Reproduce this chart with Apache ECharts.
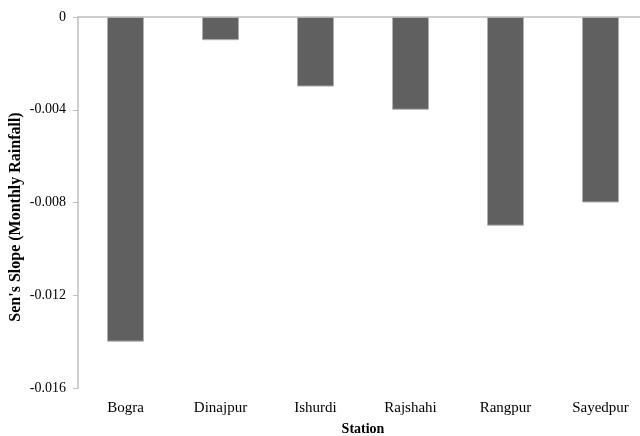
<!DOCTYPE html>
<html>
<head>
<meta charset="utf-8">
<script src="https://cdn.jsdelivr.net/npm/echarts@6/dist/echarts.min.js"></script>
<style>
html,body{margin:0;padding:0;background:#fff;}
#chart{width:640px;height:436px;}
</style>
</head>
<body>
<div id="chart"></div>
<script>
// Sen's slope of monthly rainfall for each station
const stations = ['Bogra', 'Dinajpur', 'Ishurdi', 'Rajshahi', 'Rangpur', 'Sayedpur'];
const senSlope = [-0.014, -0.001, -0.003, -0.004, -0.009, -0.008];
const yTicks = [0, -0.004, -0.008, -0.012, -0.016];
const yTitle = "Sen's Slope (Monthly Rainfall)";
const xTitle = 'Station';

const serif = '"Liberation Serif", "Times New Roman", serif';
const chart = echarts.init(document.getElementById('chart'));

chart.setOption({
  animation: false,
  backgroundColor: '#ffffff',
  grid: { left: 78, top: 17, width: 570, height: 371, outerBoundsMode: 'none', containLabel: false },
  xAxis: [
    {
      type: 'category',
      data: stations,
      position: 'bottom',
      name: xTitle,
      nameLocation: 'middle',
      nameGap: 34,
      nameTextStyle: { fontFamily: serif, fontSize: 14, fontWeight: 'bold', color: '#000' },
      axisLine: { show: false, onZero: false },
      axisTick: { show: false },
      axisLabel: { fontFamily: serif, fontSize: 15, color: '#000', margin: 13 }
    },
    {
      // zero baseline along the top of the plot
      type: 'category',
      data: stations,
      position: 'top',
      axisLine: { show: true, onZero: false, lineStyle: { color: '#bfbfbf', width: 1.5 } },
      axisTick: { show: false },
      axisLabel: { show: false }
    }
  ],
  yAxis: {
    type: 'value',
    min: yTicks[yTicks.length - 1],
    max: yTicks[0],
    interval: 0.004,
    axisLine: { show: true, lineStyle: { color: '#bfbfbf', width: 1.5 } },
    axisTick: { show: true, length: 5, lineStyle: { color: '#bfbfbf' } },
    axisLabel: {
      fontFamily: serif, fontSize: 14, color: '#000', margin: 12,
      formatter: v => (Math.abs(v) < 1e-12 ? '0' : v.toFixed(3))
    },
    splitLine: { show: false }
  },
  graphic: [{
    type: 'text',
    x: 16,
    y: 217,
    rotation: Math.PI / 2,
    style: {
      text: yTitle,
      fontFamily: serif,
      fontSize: 16,
      fontWeight: 'bold',
      fill: '#000',
      textAlign: 'center',
      textVerticalAlign: 'middle'
    }
  }],
  series: [{
    type: 'bar',
    data: senSlope,
    barWidth: 37,
    itemStyle: { color: '#606060', borderColor: '#b0b0b0', borderWidth: 1 }
  }]
});
</script>
</body>
</html>
